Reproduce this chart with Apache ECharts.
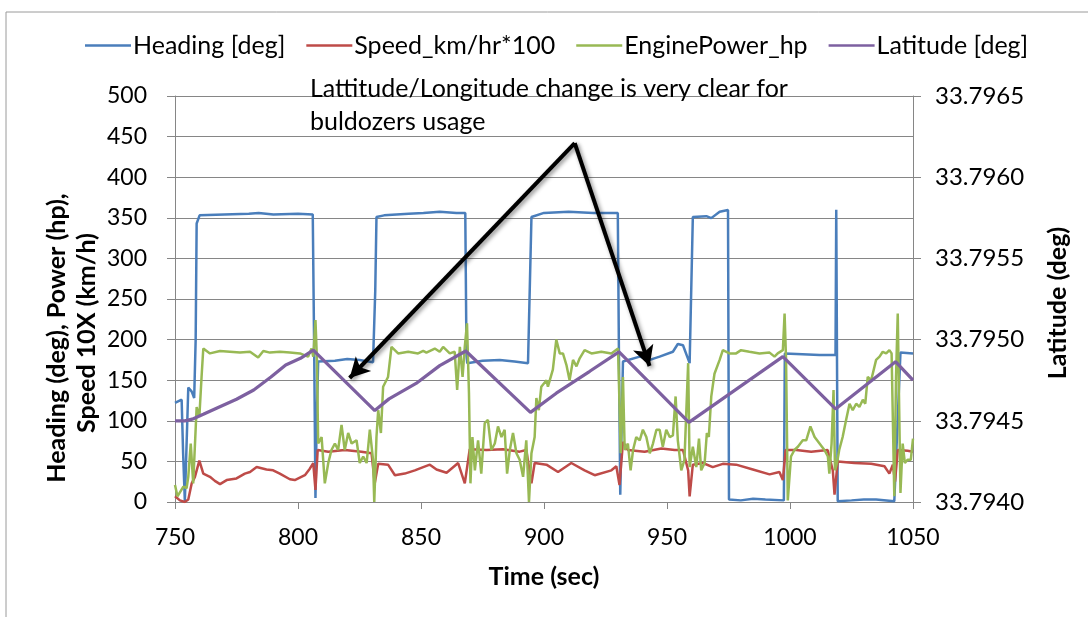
<!DOCTYPE html>
<html>
<head>
<meta charset="utf-8">
<script src="https://cdn.jsdelivr.net/npm/echarts@6/dist/echarts.min.js"></script>
<style>html,body{margin:0;padding:0;background:#fff}#c{width:1088px;height:617px}</style>
</head>
<body>
<div id="c"></div>
<script>
// ---- data: [time (sec), value] ----
const seriesNames = ['Heading [deg]', 'Speed_km/hr*100', 'EnginePower_hp', 'Latitude [deg]'];
const xTicks = [750, 800, 850, 900, 950, 1000, 1050];
const leftTicks = [0, 50, 100, 150, 200, 250, 300, 350, 400, 450, 500];
const rightTicks = [33.7940, 33.7945, 33.7950, 33.7955, 33.7960, 33.7965];

const headingData = [[750,122],[752.7,126],[753.3,60],[754,1],[755,100],[755.4,141],[756.8,136],[757.8,128],[758.4,200],[758.8,343],[760,353],[770,354],[780,355],[784,356],[790,354],[800,355],[806,354],[806.6,180],[807.1,5],[807.6,100],[808.2,173],[815,174],[820,176],[825,175],[830.5,172],[831.4,260],[831.9,351],[835,353],[845,355],[851,356],[857.6,357.5],[864.4,356],[868,356],[868.5,180],[868.8,171],[875,174],[882,175],[888,173],[893.5,171],[894.9,351],[900,356],[910,357.5],[920,356],[930,356],[930.5,170],[931,9],[931.6,100],[932.1,173],[938.9,179],[943,175],[947,179],[952.4,185],[954.4,194.6],[956.5,193],[959.2,171],[960.5,351],[966,352],[968,349.6],[971.4,357.5],[974.8,359.6],[975.2,3],[980,2],[985,4],[990,3],[997.5,2],[997.9,183],[1005,182],[1012,181],[1018.5,181],[1018.8,360],[1019.2,360],[1019.4,1],[1025,2],[1030,3],[1035,3],[1042.4,1],[1044.9,184],[1050,183]];

const speedData = [[750,7],[752,2],[754,0],[755.4,3],[756.8,23],[758.1,31],[759.9,51],[761.5,35],[764.2,31],[766.2,26],[768.3,22],[771,27],[775,29],[778.4,35],[780.5,37],[783.2,43],[787.2,40],[789.9,39],[792.6,35],[796.7,28],[798.7,27],[802.8,33],[804.8,41],[806.2,48],[807.1,15],[808,64],[812.3,62],[819,64],[825.8,62],[829.9,60],[831.2,23],[832.6,47],[836.6,46],[839.4,33],[843.4,35],[847.5,39],[850.9,43],[853.6,46],[856.3,40],[860.4,36],[865.1,48],[867.8,23],[869.8,65],[876.6,64],[883.3,65],[890.1,62],[892.8,64],[894.9,23],[896.2,48],[901,46],[905.7,37],[911.1,48],[916.5,39],[920.6,33],[927.4,39],[929.4,44],[930.7,21],[932.1,74],[934.1,64],[940.9,62],[947.7,66],[953.1,64],[956.5,64],[958.6,39],[959.2,7],[960.5,46],[964.6,48],[968.6,43],[972.7,47],[978.1,46],[984.9,40],[991.7,34],[995.7,37],[997.1,27],[998.2,64],[1002.5,64],[1008.6,62],[1015.3,64],[1017.4,39],[1018.1,9],[1019.4,50],[1026.2,48],[1033,47],[1038.4,44],[1040.4,35],[1041.8,46],[1042.7,25],[1043.8,64],[1047.8,63],[1050,62]];

const powerData = [[750,21],[751,7],[753.4,19],[754.7,17],[755.4,31],[756.4,72],[757.4,23],[758.8,117],[759.9,105],[760.8,154],[761.5,189],[764.2,183],[768.3,186],[772.3,185],[776.4,184],[780.5,185],[783.8,178],[785.9,186],[788.6,184],[792.6,185],[796.7,184],[800.8,183],[804.1,179],[805.5,189],[806.2,179],[807.1,224],[807.7,175],[808.2,72],[809.6,80],[810.9,23],[812.3,48],[813.6,64],[815,72],[816.3,64],[817.7,95],[819,64],[820.4,85],[821.8,72],[823.8,76],[825.1,48],[826.5,56],[827.9,48],[829.2,89],[830.5,52],[831,0],[831.9,80],[832.6,113],[833.7,85],[834.6,142],[836.6,154],[838,191],[840.7,183],[844.8,185],[848.8,183],[850.9,186],[852.2,184],[855.6,189],[857.6,185],[859,191],[861.7,183],[863.7,185],[864.7,138],[865.8,191],[866.9,154],[867.8,191],[868.7,220],[869.5,134],[870.1,23],[870.9,80],[871.9,39],[873.2,76],[874.5,35],[875.9,97],[877.2,101],[878.6,64],[880,72],[881.3,93],[882.7,80],[884,89],[885,35],[886.1,64],[887.4,85],[888.8,60],[890.1,52],[891.5,31],[892.8,76],[893.9,0],[894.9,60],[896.2,80],[896.9,128],[897.9,113],[898.9,142],[901,150],[901.6,142],[903.6,163],[905,200],[906.4,183],[907.7,183],[909.1,169],[910.4,150],[911.8,175],[913.2,167],[914.5,177],[916.5,187],[919.3,183],[923.3,185],[927.4,183],[930.1,189],[931.2,60],[932.1,154],[932.8,64],[934.1,72],[935.2,39],[936.2,64],[937.5,80],[938.9,76],[940.2,89],[941.6,80],[943,60],[944.3,72],[945.7,89],[947,89],[948.3,68],[949.7,89],[951.1,80],[952.4,82],[953.5,130],[954.4,76],[955.8,39],[957.1,52],[958.6,171],[959.2,43],[960.5,68],[961.9,43],[963,78],[963.9,39],[965.3,48],[966.2,85],[967,80],[968,130],[969.3,158],[971.4,175],[972.7,187],[975.4,183],[978.1,183],[980.1,187],[983.5,185],[987.6,183],[991.7,184],[993.7,179],[995,183],[997.1,187],[997.8,232],[998.4,175],[999.1,2],[1000.4,56],[1001.8,64],[1003.2,68],[1005.2,76],[1006.6,76],[1008.3,93],[1010,80],[1012,72],[1014,64],[1015.4,56],[1016,35],[1016.9,72],[1017.7,138],[1018.3,39],[1019.1,48],[1020,64],[1021.4,80],[1022.8,101],[1024.2,121],[1025.5,113],[1026.9,121],[1028.2,117],[1029.6,126],[1030.6,121],[1031.6,154],[1033,150],[1035,175],[1036.4,179],[1037.7,185],[1039.1,183],[1040.4,187],[1041.3,183],[1042.4,7],[1043.1,154],[1043.8,232],[1044.9,11],[1045.8,72],[1046.7,48],[1047.8,52],[1049.1,52],[1050,78]];

const latitudeData = [[750,33.79450],[754,33.79450],[757,33.79451],[761.5,33.79454],[768,33.794585],[775,33.794633],[782,33.79469],[789,33.79477],[795,33.794844],[801,33.794885],[806.2,33.794935],[831.2,33.794563],[837,33.794635],[848,33.79473],[857.6,33.79484],[868.2,33.79493],[894.5,33.794552],[905,33.79467],[918.6,33.794805],[930.5,33.794925],[958.9,33.79449],[997.1,33.794895],[1018.5,33.794573],[1042.9,33.794864],[1050,33.79475]];

// annotation arrows in data units (time, left-axis value)
const arrowStart = [912.5, 442];
const arrowEnds = [[821, 152.7], [942.9, 167.5]];
const noteLines = ['Lattitude/Longitude change is very clear for', 'buldozers usage'];

const colors = ['#4A7EBB', '#BE4B48', '#98B954', '#7D60A0'];
const FONT = 'Lato, "Liberation Sans", sans-serif';
const gridColor = '#868686';
const TXT = 25;

const chart = echarts.init(document.getElementById('c'), null, {renderer: 'canvas'});

function lineSeries(i, data, yIdx, width) {
  return {
    name: seriesNames[i], type: 'line', data: data, yAxisIndex: yIdx,
    showSymbol: false, symbol: 'none', smooth: false,
    lineStyle: {color: colors[i], width: width},
    itemStyle: {color: colors[i]},
    emphasis: {disabled: true}, animation: false, z: 2 + i
  };
}

const series = [
  lineSeries(0, headingData, 0, 2.5),
  lineSeries(1, speedData, 0, 2.5),
  lineSeries(2, powerData, 0, 2.5),
  lineSeries(3, latitudeData, 1, 3.25)
];
series[0].markLine = {
  silent: true, symbol: ['none', 'arrow'], symbolSize: [16, 20],
  label: {show: false},
  lineStyle: {color: '#000', width: 4, type: 'solid', shadowBlur: 4, shadowColor: 'rgba(0,0,0,0.45)', shadowOffsetX: 2, shadowOffsetY: 2},
  emphasis: {disabled: true},
  data: arrowEnds.map(e => [{coord: arrowStart}, {coord: e}]),
  z: 20
};

chart.setOption({
  backgroundColor: '#fff',
  animation: false,
  textStyle: {fontFamily: FONT},
  grid: {left: 175, right: 175, top: 96, bottom: 115, containLabel: false},
  legend: {
    data: seriesNames, top: 28, left: 80, itemGap: 21, itemWidth: 46, itemHeight: 14,
    textStyle: {fontFamily: FONT, fontSize: TXT, color: '#000', padding: [0, 0, 0, -3]},
    icon: 'path://M0,6 L46,6 L46,8.5 L0,8.5 Z'
  },
  xAxis: {
    type: 'value', min: 750, max: 1050, interval: 50,
    axisLine: {show: true, lineStyle: {color: gridColor, width: 1}},
    axisTick: {show: true, inside: false, length: 7, lineStyle: {color: gridColor}},
    axisLabel: {fontFamily: FONT, fontSize: 23, color: '#000', margin: 24, formatter: v => String(v)},
    splitLine: {show: false}
  },
  yAxis: [
    {
      type: 'value', min: 0, max: 500, interval: 50, position: 'left',
      axisLine: {show: true, lineStyle: {color: gridColor, width: 1}},
      axisTick: {show: true, inside: false, length: 8, lineStyle: {color: gridColor}},
      axisLabel: {fontFamily: FONT, fontSize: 23, color: '#000', margin: 28},
      splitLine: {show: true, lineStyle: {color: gridColor, width: 1}}
    },
    {
      type: 'value', min: 33.7940, max: 33.7965, interval: 0.0005, position: 'right',
      axisLine: {show: true, lineStyle: {color: gridColor, width: 1}},
      axisTick: {show: true, inside: false, length: 8, lineStyle: {color: gridColor}},
      axisLabel: {fontFamily: FONT, fontSize: 24, color: '#000', margin: 22, formatter: v => v.toFixed(4)},
      splitLine: {show: false}
    }
  ],
  series: series,
  graphic: [
    {type: 'rect', silent: true, z: -10, shape: {x: 6, y: 12, width: 1200, height: 700}, style: {fill: 'none', stroke: '#9a9a9a', lineWidth: 1}},
    {type: 'text', silent: true, x: 57, y: 338, rotation: Math.PI / 2,
      style: {text: 'Heading (deg), Power (hp),', fontFamily: FONT, fontSize: TXT, fontWeight: 'bold', fill: '#000', textAlign: 'center', textVerticalAlign: 'middle'}},
    {type: 'text', silent: true, x: 87, y: 333, rotation: Math.PI / 2,
      style: {text: 'Speed 10X (km/h)', fontFamily: FONT, fontSize: TXT, fontWeight: 'bold', fill: '#000', textAlign: 'center', textVerticalAlign: 'middle'}},
    {type: 'text', silent: true, x: 1058, y: 303, rotation: Math.PI / 2,
      style: {text: 'Latitude (deg)', fontFamily: FONT, fontSize: TXT, fontWeight: 'bold', fill: '#000', textAlign: 'center', textVerticalAlign: 'middle'}},
    {type: 'text', silent: true, x: 544, y: 577,
      style: {text: 'Time (sec)', fontFamily: FONT, fontSize: TXT, fontWeight: 'bold', fill: '#000', textAlign: 'center', textVerticalAlign: 'middle'}},
    {type: 'text', silent: true, x: 310, y: 89, z: 30,
      style: {text: noteLines[0], fontFamily: FONT, fontSize: TXT, fill: '#000', textAlign: 'left', textVerticalAlign: 'middle'}},
    {type: 'text', silent: true, x: 310, y: 122, z: 30,
      style: {text: noteLines[1], fontFamily: FONT, fontSize: TXT, fill: '#000', textAlign: 'left', textVerticalAlign: 'middle'}}
  ]
});
</script>
</body>
</html>
